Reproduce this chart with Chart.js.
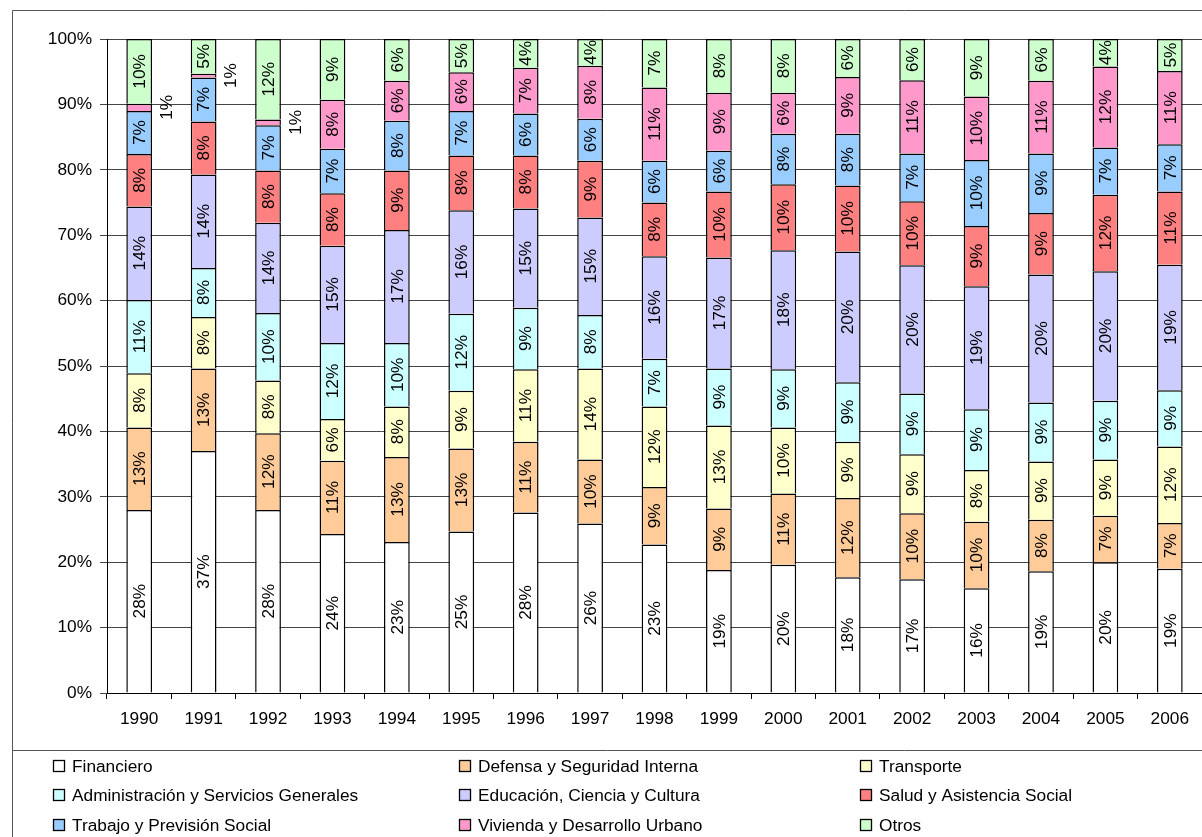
<!DOCTYPE html>
<html lang="es">
<head>
<meta charset="utf-8">
<title>Gasto por función, 1990–2006</title>
<script src="https://cdn.jsdelivr.net/npm/chart.js@4/dist/chart.umd.min.js"></script>
<style>
  html, body { margin: 0; padding: 0; background: #fff; }
  #wrap { position: relative; width: 1202px; height: 837px; overflow: hidden; }
  canvas { display: block; }
</style>
</head>
<body>
<div id="wrap"><canvas id="c" width="1202" height="837"></canvas></div>
<script>
// Years on the category axis
const years = ['1990','1991','1992','1993','1994','1995','1996','1997','1998',
               '1999','2000','2001','2002','2003','2004','2005','2006'];

// Share of each function in total spending (%), one array per function
const financiero     = [28.0, 37.0, 28.0, 24.3, 23.1, 24.7, 27.6, 25.9, 22.7, 18.8, 19.6, 17.7, 17.4, 16.0, 18.6, 20.0, 19.0];
const defensa        = [12.6, 12.6, 11.7, 11.2, 13.0, 12.7, 10.8,  9.8,  8.8,  9.4, 10.9, 12.1, 10.1, 10.2,  7.9,  7.1,  7.0];
const transporte     = [ 8.3,  7.9,  8.1,  6.4,  7.7,  8.8, 11.1, 13.9, 12.3, 12.7, 10.1,  8.6,  9.0,  7.9,  8.9,  8.6, 11.7];
const administracion = [11.2,  7.5, 10.3, 11.6,  9.7, 11.8,  9.4,  8.2,  7.3,  8.7,  8.9,  9.1,  9.3,  9.3,  9.0,  9.0,  8.6];
const educacion      = [14.3, 14.3, 13.8, 14.9, 17.3, 15.8, 15.2, 14.9, 15.7, 17.0, 18.2, 20.0, 19.6, 18.8, 19.6, 19.8, 19.2];
const salud          = [ 8.0,  8.1,  8.0,  8.0,  9.1,  8.4,  8.1,  8.7,  8.2, 10.1, 10.1, 10.1,  9.8,  9.2,  9.4, 11.7, 11.2];
const trabajo        = [ 6.6,  6.7,  6.9,  6.8,  7.6,  6.8,  6.4,  6.4,  6.4,  6.2,  7.7,  7.9,  7.3, 10.1,  9.1,  7.2,  7.2];
const vivienda       = [ 1.1,  0.6,  0.9,  7.5,  6.1,  5.9,  7.0,  8.1, 11.2,  8.9,  6.3,  8.7, 11.2,  9.7, 11.1, 12.4, 11.2];
const otros          = [ 9.9,  5.3, 12.3,  9.3,  6.4,  5.1,  4.4,  4.1,  7.4,  8.2,  8.2,  5.8,  6.3,  8.8,  6.4,  4.2,  4.9];

// Series names (legend order) and fills
const seriesNames = ['Financiero', 'Defensa y Seguridad Interna', 'Transporte',
                     'Administración y Servicios Generales', 'Educación, Ciencia y Cultura', 'Salud y Asistencia Social',
                     'Trabajo y Previsión Social', 'Vivienda y Desarrollo Urbano', 'Otros'];
const seriesValues = [financiero, defensa, transporte, administracion, educacion, salud, trabajo, vivienda, otros];
const seriesColors = ['#FFFFFF', '#FFCC99', '#FFFFCC', '#CCFFFF', '#CCCCFF', '#FF8080', '#99CCFF', '#FF99CC', '#CCFFCC'];

// Value-axis tick values
const yTickValues = [0, 10, 20, 30, 40, 50, 60, 70, 80, 90, 100];

const FONT = '"Liberation Sans", Arial, sans-serif';
const FS = 17.3;

// Chart frame: outer border and the line above the legend box
const framePlugin = {
  id: 'frame',
  beforeDraw(chart) {
    const ctx = chart.ctx;
    ctx.save();
    ctx.fillStyle = '#fff';
    ctx.fillRect(0, 0, chart.width, chart.height);
    ctx.strokeStyle = '#555';
    ctx.lineWidth = 1;
    ctx.beginPath();
    ctx.moveTo(12.5, chart.height);
    ctx.lineTo(12.5, 10.5);
    ctx.lineTo(chart.width, 10.5);
    ctx.moveTo(12.5, 750.5);
    ctx.lineTo(chart.width, 750.5);
    ctx.stroke();
    ctx.restore();
  }
};

// Rotated percentage labels inside each segment; very thin segments get theirs beside the bar
const segmentLabels = {
  id: 'segmentLabels',
  afterDatasetsDraw(chart) {
    const ctx = chart.ctx;
    ctx.save();
    ctx.font = FS + 'px ' + FONT;
    ctx.fillStyle = '#000';
    ctx.textAlign = 'center';
    ctx.textBaseline = 'middle';
    chart.data.datasets.forEach((ds, di) => {
      const meta = chart.getDatasetMeta(di);
      meta.data.forEach((bar, i) => {
        const v = ds.data[i];
        const p = bar.getProps(['x', 'y', 'base', 'width'], true);
        const cy = (p.y + p.base) / 2;
        const lx = v < 2 ? p.x + p.width + 1 : p.x;
        ctx.save();
        ctx.translate(lx, cy);
        ctx.rotate(-Math.PI / 2);
        ctx.fillText(Math.round(v) + '%', 0, 1);
        ctx.restore();
      });
    });
    ctx.restore();
  }
};

// Three-column legend below the plot
const gridLegend = {
  id: 'gridLegend',
  afterDraw(chart) {
    const ctx = chart.ctx;
    const colX = [53, 459, 860];
    const rowY = [766, 795, 825];
    ctx.save();
    ctx.font = FS + 'px ' + FONT;
    ctx.textAlign = 'left';
    ctx.textBaseline = 'middle';
    chart.data.datasets.forEach((ds, i) => {
      const x = colX[i % 3];
      const y = rowY[Math.floor(i / 3)];
      ctx.fillStyle = ds.backgroundColor;
      ctx.fillRect(x, y - 6, 12, 12);
      ctx.strokeStyle = '#000';
      ctx.lineWidth = 1.3;
      ctx.strokeRect(x + 0.5, y - 5.5, 11, 11);
      ctx.fillStyle = '#000';
      ctx.fillText(ds.label, x + 19, y + 1);
    });
    ctx.restore();
  }
};

const datasets = seriesNames.map((name, i) => ({
  label: name,
  data: seriesValues[i],
  backgroundColor: seriesColors[i],
  borderColor: '#000',
  borderWidth: 1.5
}));

new Chart(document.getElementById('c'), {
  type: 'bar',
  data: { labels: years, datasets },
  plugins: [framePlugin, segmentLabels, gridLegend],
  options: {
    responsive: false,
    animation: false,
    layout: { padding: { left: 0, right: 0, top: 39, bottom: 0 } },
    datasets: { bar: { categoryPercentage: 1.0, barPercentage: 0.4 } },
    plugins: {
      legend: { display: false },
      tooltip: { enabled: false },
      title: { display: false }
    },
    scales: {
      x: {
        stacked: true,
        grid: { display: true, drawOnChartArea: false, drawTicks: true, tickLength: 6, color: '#000', offset: true },
        border: { display: true, color: '#000', width: 1 },
        ticks: { color: '#000', font: { family: FONT, size: FS }, padding: 10, maxRotation: 0, autoSkip: false },
        afterFit(scale) { scale.height = 144; }
      },
      y: {
        stacked: true,
        min: 0,
        max: 100,
        afterBuildTicks(scale) { scale.ticks = yTickValues.map(v => ({ value: v })); },
        grid: { color: '#444', lineWidth: 1, drawTicks: true, tickLength: 7 },
        border: { display: true, color: '#000', width: 1 },
        ticks: {
          color: '#000',
          font: { family: FONT, size: FS },
          padding: 8,
          callback: v => v + '%'
        },
        afterFit(scale) { scale.width = 107; }
      }
    }
  }
});
</script>
</body>
</html>
